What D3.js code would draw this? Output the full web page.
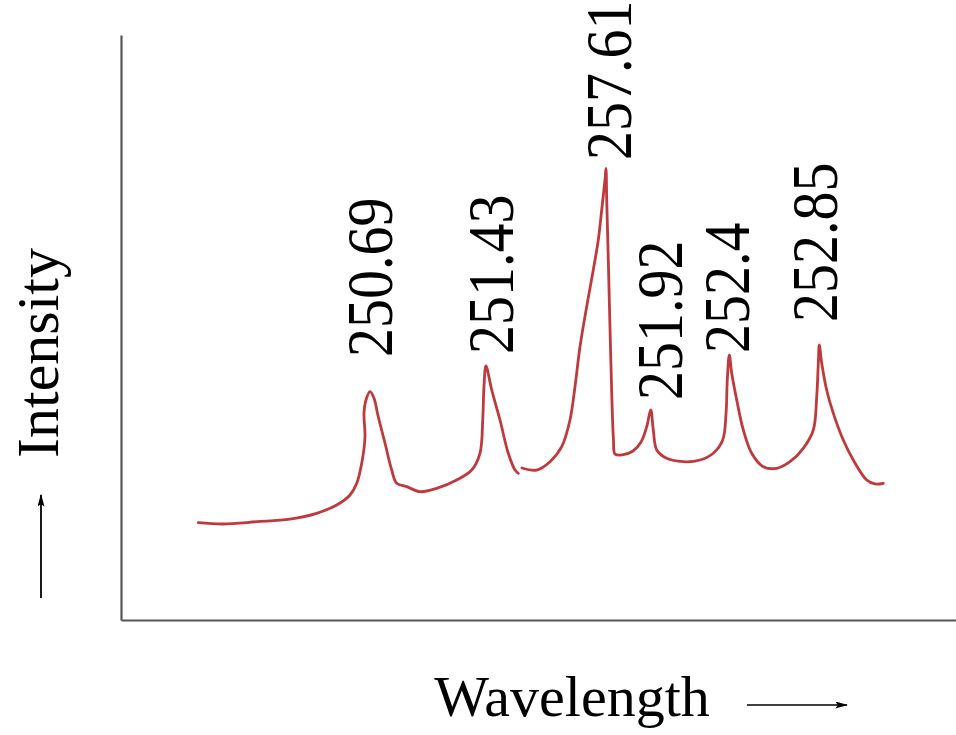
<!DOCTYPE html>
<html>
<head>
<meta charset="utf-8">
<script src="https://cdn.jsdelivr.net/npm/d3@7"></script>
<style>
  html, body { margin: 0; padding: 0; background: #fff; }
  svg { display: block; }
  text { font-family: "Liberation Serif", "Times New Roman", serif; fill: #000; }
</style>
</head>
<body>
<svg id="chart" width="956" height="735"></svg>
<script>
// ---- data (arbitrary relative units) ----
// trace segment 1 (left part of the hand-drawn spectrum)
const seg1X = [9.26, 12.25, 16.25, 20.24, 23.44, 25.83, 27.43, 28.23, 28.83, 29.22, 29.10, 29.34, 29.82, 30.30, 30.81, 31.62, 32.42, 33.02, 34.22, 35.81, 37.81, 40.20, 42.00, 42.99, 43.32, 43.47, 43.71, 44.40, 45.39, 46.38, 47.19, 47.58];
const seg1Y = [16.63, 16.41, 16.80, 17.26, 18.24, 19.66, 21.37, 23.37, 26.79, 31.33, 35.33, 37.61, 39.03, 37.90, 34.75, 30.21, 25.64, 23.37, 22.79, 21.93, 22.51, 23.93, 25.64, 28.50, 34.19, 39.88, 43.42, 39.32, 34.19, 28.50, 25.64, 25.08];
// trace segment 2 (right part)
const seg2X = [48.02, 49.78, 51.38, 52.78, 53.77, 54.37, 54.97, 55.77, 56.56, 57.16, 57.57, 57.96, 58.08, 58.17, 58.36, 58.56, 58.77, 58.98, 59.16, 60.00, 61.32, 62.28, 62.96, 63.44, 63.75, 64.16, 65.35, 67.34, 69.34, 70.93, 72.06, 72.46, 72.61, 72.85, 73.14, 73.74, 74.53, 75.53, 76.92, 78.53, 80.12, 81.71, 82.91, 83.32, 83.51, 83.63, 83.92, 84.51, 85.31, 86.50, 87.70, 89.31, 90.30, 91.29];
const seg2Y = [25.98, 25.64, 27.06, 29.62, 34.19, 39.88, 46.72, 53.56, 59.83, 64.96, 70.09, 75.21, 77.21, 71.79, 61.54, 50.14, 38.75, 30.77, 28.38, 28.21, 28.89, 30.43, 33.04, 35.90, 32.48, 29.06, 27.64, 27.06, 27.35, 28.50, 30.77, 35.33, 41.03, 45.30, 42.17, 37.61, 32.48, 28.50, 26.21, 25.93, 27.06, 29.35, 32.48, 38.17, 43.88, 47.01, 43.88, 39.32, 35.33, 30.77, 27.35, 23.93, 23.25, 23.37];

// peak labels and their anchor (relative units)
const peakLabels = ["250.69", "251.43", "257.61", "251.92", "252.4", "252.85"];
const labelX = [32.45, 46.95, 61.10, 67.20, 75.20, 85.75];
const labelY = [44.96, 45.47, 78.63, 37.61, 45.64, 50.94];

const xTitle = "Wavelength";
const yTitle = "Intensity";

// ---- drawing ----
const svg = d3.select("#chart");
const x = d3.scaleLinear().domain([0, 100]).range([121, 956]);
const y = d3.scaleLinear().domain([0, 100]).range([620, 35]);

const axisColor = "#555";
const gx = svg.append("g").attr("transform", `translate(0,${y(0)})`)
  .call(d3.axisBottom(x).tickValues([]).tickSizeOuter(0));
const gy = svg.append("g").attr("transform", `translate(${x(0)},0)`)
  .call(d3.axisLeft(y).tickValues([]).tickSizeOuter(0));
[gx, gy].forEach(g => g.select(".domain").attr("stroke", axisColor).attr("stroke-width", 2.2));

const segments = [
  seg1X.map((v, i) => [v, seg1Y[i]]),
  seg2X.map((v, i) => [v, seg2Y[i]])
];
const line = d3.line().x(d => x(d[0])).y(d => y(d[1])).curve(d3.curveCatmullRom.alpha(0.5));
svg.selectAll("path.trace").data(segments).join("path")
  .attr("class", "trace")
  .attr("d", line)
  .attr("fill", "none")
  .attr("stroke", "#bf3a3c")
  .attr("stroke-width", 2.8)
  .attr("stroke-linejoin", "round")
  .attr("stroke-linecap", "round");

// peak labels (rotated)
svg.selectAll("text.peak").data(peakLabels).join("text")
  .attr("class", "peak")
  .attr("transform", (d, i) => `translate(${x(labelX[i])},${y(labelY[i])}) scale(1.12,1) rotate(-90)`)
  .attr("font-size", 58)
  .attr("text-anchor", "start")
  .text(d => d);

// axis titles
svg.append("text")
  .attr("x", 572).attr("y", 716)
  .attr("text-anchor", "middle")
  .attr("font-size", 58)
  .text(xTitle);
svg.append("text")
  .attr("transform", "translate(58,353) rotate(-90)")
  .attr("text-anchor", "middle")
  .attr("font-size", 60)
  .text(yTitle);

// arrows
const defs = svg.append("defs");
defs.append("marker")
  .attr("id", "arrow")
  .attr("viewBox", "0 0 10 10")
  .attr("refX", 9).attr("refY", 5)
  .attr("markerWidth", 13).attr("markerHeight", 7)
  .attr("markerUnits", "userSpaceOnUse")
  .attr("orient", "auto")
  .attr("preserveAspectRatio", "none")
  .append("path").attr("d", "M0,0 L10,5 L0,10 L2,5 Z").attr("fill", "#000");

svg.append("line")
  .attr("x1", 41).attr("y1", 598).attr("x2", 41).attr("y2", 495)
  .attr("stroke", "#000").attr("stroke-width", 1.8)
  .attr("marker-end", "url(#arrow)");
svg.append("line")
  .attr("x1", 747).attr("y1", 705).attr("x2", 847).attr("y2", 705)
  .attr("stroke", "#000").attr("stroke-width", 1.6)
  .attr("marker-end", "url(#arrow)");
</script>
</body>
</html>
